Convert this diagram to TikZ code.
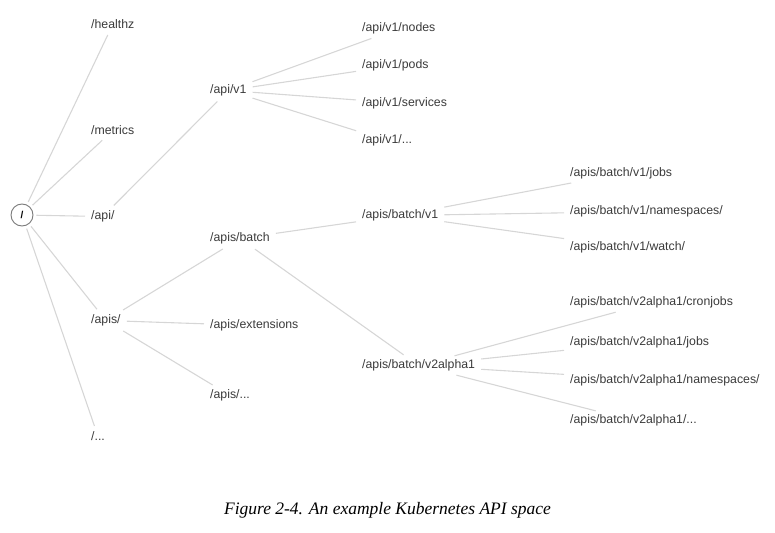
\documentclass[tikz,border=0pt]{standalone}
\usepackage{fontspec}
\setmainfont{Liberation Sans}
\newfontfamily\capfont{Liberation Serif}
\definecolor{edgegray}{HTML}{D6D6D6}
\definecolor{labelgray}{HTML}{3A3A3A}
\definecolor{rootgray}{HTML}{7A7A7A}

\begin{document}
\begin{tikzpicture}[x=1pt,y=-1pt]
\tikzstyle{apinode}=[anchor=west,inner xsep=3pt,inner ysep=3pt,text=labelgray,font=\fontsize{12.3}{14}\selectfont]
\tikzstyle{apiedge}=[draw=edgegray,line width=1.1pt,shorten >=3pt,shorten <=3pt]
\useasboundingbox (0,0) rectangle (775,532);
% root
\node [circle,draw=rootgray,fill=white,line width=0.9pt,minimum size=22pt,inner sep=0pt,font=\bfseries] (root) at (22,215) {/};
% first level
\node [apinode] (healthz) at (88,24.5) {/healthz};
\node [apinode] (metrics) at (88,130.5) {/metrics};
\node [apinode] (api) at (88,216.5) {/api/};
\node [apinode] (apis) at (88,320.5) {/apis/};
\node [apinode] (rest) at (88,436.5) {/...};
% second level
\node [apinode] (apiv1) at (207,90.5) {/api/v1};
\node [apinode] (batch) at (207,238.5) {/apis/batch};
\node [apinode] (ext) at (207,325.5) {/apis/extensions};
\node [apinode] (apisrest) at (207,395.5) {/apis/...};
% third level
\node [apinode] (nodes) at (359,28.5) {/api/v1/nodes};
\node [apinode] (pods) at (359,65.5) {/api/v1/pods};
\node [apinode] (services) at (359,103.5) {/api/v1/services};
\node [apinode] (v1rest) at (359,140.5) {/api/v1/...};
\node [apinode] (batchv1) at (359,215.5) {/apis/batch/v1};
\node [apinode] (alpha) at (359,365.5) {/apis/batch/v2alpha1};
% fourth level
\node [apinode] (jobs) at (567,173.5) {/apis/batch/v1/jobs};
\node [apinode] (ns) at (567,211.5) {/apis/batch/v1/namespaces/};
\node [apinode] (watch) at (567,247.5) {/apis/batch/v1/watch/};
\node [apinode] (cron) at (567,302.5) {/apis/batch/v2alpha1/cronjobs};
\node [apinode] (ajobs) at (567,342.5) {/apis/batch/v2alpha1/jobs};
\node [apinode] (ans) at (567,380.5) {/apis/batch/v2alpha1/namespaces/};
\node [apinode] (arest) at (567,420.5) {/apis/batch/v2alpha1/...};
% links
\foreach \from/\to in {root/healthz,root/metrics,root/api,root/apis,root/rest,
  api/apiv1,apis/batch,apis/ext,apis/apisrest,
  apiv1/nodes,apiv1/pods,apiv1/services,apiv1/v1rest,
  batch/batchv1,batch/alpha,
  batchv1/jobs,batchv1/ns,batchv1/watch,
  alpha/cron,alpha/ajobs,alpha/ans,alpha/arest}
  \draw [apiedge] (\from) -- (\to);
% caption
\node [font=\capfont\itshape\fontsize{17.5}{20}\selectfont] (caption) at (387.5,510) {Figure 2-4. An example Kubernetes API space};
\end{tikzpicture}
\end{document}
